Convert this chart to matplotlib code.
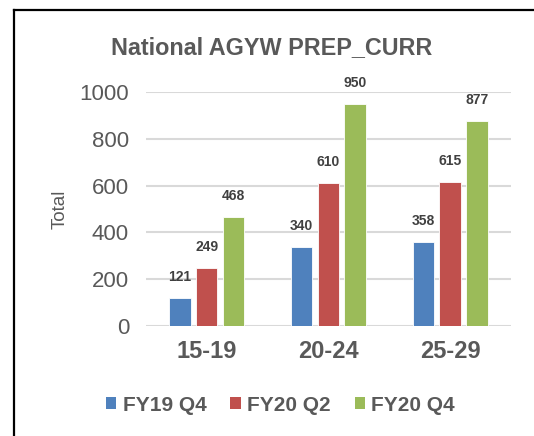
import numpy as np
import matplotlib.pyplot as plt
from matplotlib.lines import Line2D
from matplotlib.patches import Patch

plt.rcParams['font.family'] = ['Liberation Sans', 'DejaVu Sans']

# Data
age_groups = ['15-19', '20-24', '25-29']
series_names = ['FY19 Q4', 'FY20 Q2', 'FY20 Q4']
fy19_q4 = [121, 340, 358]
fy20_q2 = [249, 610, 615]
fy20_q4 = [468, 950, 877]
colors = ['#4f81bd', '#c0504d', '#9bbb59']

fig = plt.figure(figsize=(5.34, 4.36), dpi=100)
ax = fig.add_axes([0.273, 0.252, 0.684, 0.537])

x = np.arange(len(age_groups))
width = 0.177
step = 0.22
for i, (vals, name, c) in enumerate(zip([fy19_q4, fy20_q2, fy20_q4], series_names, colors)):
    pos = x + (i - 1) * step
    bars = ax.bar(pos, vals, width, color=c, label=name, zorder=3,
                  edgecolor='white', linewidth=0.6)
    for b, v in zip(bars, vals):
        ax.annotate(str(v), (b.get_x() + b.get_width() / 2, v),
                    xytext=(0, 10), textcoords='offset points',
                    ha='center', va='bottom', fontsize=10, fontweight='bold',
                    color='#404040')

ax.set_xlim(-0.5, 2.5)
ax.set_ylim(0, 1000)
ax.set_yticks(range(0, 1001, 200))
ax.yaxis.grid(True, color='#d9d9d9', linewidth=1.5, zorder=0)
ax.set_axisbelow(True)
for s in ax.spines.values():
    s.set_visible(False)
ax.tick_params(axis='both', length=0)
ax.tick_params(axis='y', labelsize=16, labelcolor='#595959', pad=12)
ax.set_xticks(x)
ax.set_xticklabels(age_groups, fontsize=17, fontweight='bold', color='#595959')
ax.tick_params(axis='x', pad=10)
ax.set_ylabel('Total', fontsize=13.5, color='#595959', labelpad=8)

fig.text(0.509, 0.892, 'National AGYW PREP_CURR', ha='center', va='center',
         fontsize=16.8, fontweight='bold', color='#595959')

handles = [Patch(facecolor=c, edgecolor='none') for c in colors]
fig.legend(handles, series_names, loc='center', bbox_to_anchor=(0.525, 0.071),
           ncol=3, frameon=False, handlelength=0.5, handleheight=0.55,
           handletextpad=0.3, columnspacing=1.15,
           prop={'size': 15, 'weight': 'bold'}, labelcolor='#595959')

# Border lines (left and top)
fig.add_artist(Line2D([13.5 / 534, 13.5 / 534], [0, 1 - 10.5 / 436],
                      color='black', linewidth=1.6, transform=fig.transFigure))
fig.add_artist(Line2D([13.5 / 534, 1], [1 - 10.5 / 436, 1 - 10.5 / 436],
                      color='black', linewidth=1.6, transform=fig.transFigure))

fig.savefig('out.png', dpi=100)
